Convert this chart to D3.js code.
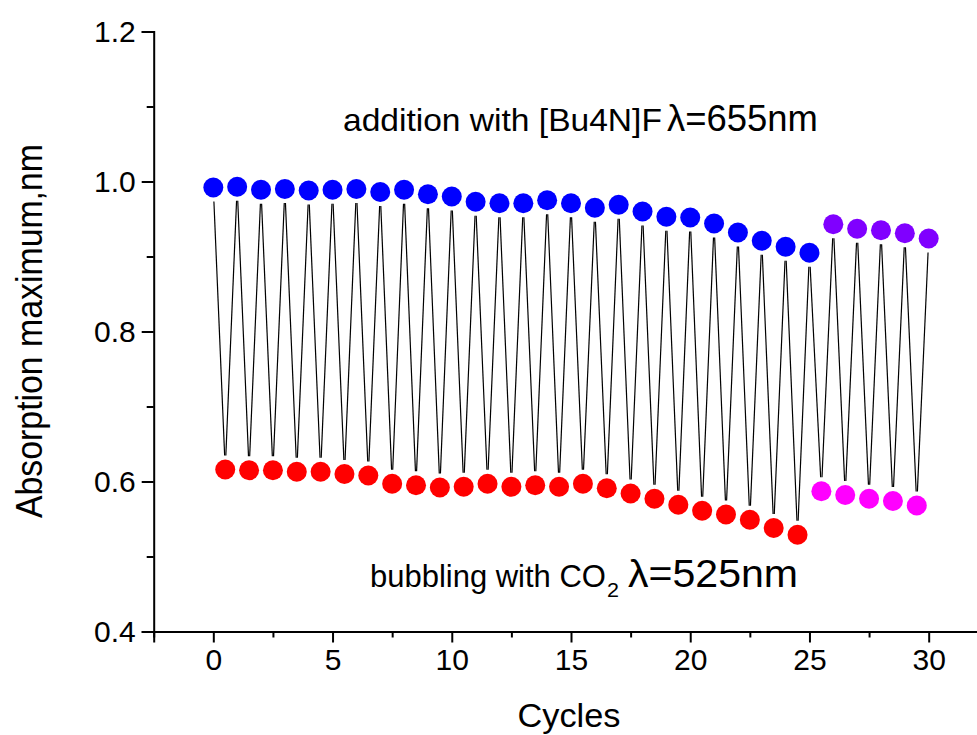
<!DOCTYPE html>
<html>
<head>
<meta charset="utf-8">
<script src="https://cdn.jsdelivr.net/npm/d3@7"></script>
<style>
  html, body { margin: 0; padding: 0; background: #fff; }
  svg { display: block; }
  text { font-family: "Liberation Sans", Arial, Helvetica, sans-serif; fill: #000; }
</style>
</head>
<body>
<svg id="chart" width="977" height="735"></svg>
<script>
// Absorption maximum over switching cycles (fluoride addition / CO2 bubbling)
const blueCycles   = d3.range(0, 26);          // 0 .. 25
const blueValues   = [0.992, 0.993, 0.989, 0.990, 0.988, 0.989, 0.990, 0.986, 0.989, 0.983,
                      0.980, 0.973, 0.971, 0.971, 0.975, 0.971, 0.965, 0.969, 0.960, 0.953,
                      0.952, 0.944, 0.932, 0.921, 0.913, 0.905];
const redCycles    = d3.range(0, 25).map(i => i + 0.5);   // 0.5 .. 24.5
const redValues    = [0.616, 0.615, 0.615, 0.613, 0.613, 0.610, 0.608, 0.597, 0.595, 0.592,
                      0.593, 0.597, 0.593, 0.595, 0.593, 0.597, 0.591, 0.584, 0.577, 0.569,
                      0.561, 0.556, 0.549, 0.538, 0.529];
const violetCycles = [26, 27, 28, 29, 30];
const violetValues = [0.943, 0.937, 0.935, 0.931, 0.924];
const pinkCycles   = [25.5, 26.5, 27.5, 28.5, 29.5];
const pinkValues   = [0.587, 0.582, 0.577, 0.574, 0.568];

const xMajorTicks = [0, 5, 10, 15, 20, 25, 30];
const xMinorTicks = [-2.5, 2.5, 7.5, 12.5, 17.5, 22.5, 27.5, 32.5];
const yMajorTicks = [0.4, 0.6, 0.8, 1.0, 1.2];
const yMinorTicks = [0.5, 0.7, 0.9, 1.1];

const svg = d3.select("#chart");

const x = d3.scaleLinear().domain([-2.5, 32.5]).range([153.7, 988.3]);
const y = d3.scaleLinear().domain([0.4, 1.2]).range([631.5, 31.5]);

// ---- axes ----
const xAxisG = svg.append("g").attr("transform", `translate(0,${y(0.4)})`);
xAxisG.call(d3.axisBottom(x).tickValues(xMajorTicks).tickSize(11).tickPadding(6).tickFormat(d3.format("d")));
const xMinorG = svg.append("g").attr("transform", `translate(0,${y(0.4)})`);
xMinorG.call(d3.axisBottom(x).tickValues(xMinorTicks).tickSize(6).tickFormat(""));

const yAxisG = svg.append("g").attr("transform", `translate(${x(-2.5)},0)`);
yAxisG.call(d3.axisLeft(y).tickValues(yMajorTicks).tickSize(12).tickPadding(6).tickFormat(d3.format(".1f")));
const yMinorG = svg.append("g").attr("transform", `translate(${x(-2.5)},0)`);
yMinorG.call(d3.axisLeft(y).tickValues(yMinorTicks).tickSize(7).tickFormat(""));

[xAxisG, xMinorG, yAxisG, yMinorG].forEach(g => {
  g.selectAll("path.domain").attr("stroke", "#000").attr("stroke-width", 2);
  g.selectAll(".tick line").attr("stroke", "#000").attr("stroke-width", 2);
});
xMinorG.select("path.domain").remove();
yMinorG.select("path.domain").remove();
xAxisG.selectAll(".tick text").attr("font-size", 30).attr("font-family", "Liberation Sans, Arial, sans-serif");
yAxisG.selectAll(".tick text").attr("font-size", 30).attr("font-family", "Liberation Sans, Arial, sans-serif");

// ---- zigzag connecting line (all points in cycle order), with gaps at symbols ----
const seq = [];
blueCycles.forEach((c, i) => seq.push({ c, v: blueValues[i] }));
redCycles.forEach((c, i) => seq.push({ c, v: redValues[i] }));
violetCycles.forEach((c, i) => seq.push({ c, v: violetValues[i] }));
pinkCycles.forEach((c, i) => seq.push({ c, v: pinkValues[i] }));
seq.sort((a, b) => a.c - b.c);

const gap = 14;
const segs = [];
for (let i = 0; i < seq.length - 1; i++) {
  const x0 = x(seq[i].c), y0 = y(seq[i].v);
  const x1 = x(seq[i + 1].c), y1 = y(seq[i + 1].v);
  const len = Math.hypot(x1 - x0, y1 - y0);
  const ux = (x1 - x0) / len, uy = (y1 - y0) / len;
  segs.push({ x0: x0 + ux * gap, y0: y0 + uy * gap, x1: x1 - ux * gap, y1: y1 - uy * gap });
}
svg.append("g").selectAll("line").data(segs).join("line")
  .attr("x1", d => d.x0).attr("y1", d => d.y0)
  .attr("x2", d => d.x1).attr("y2", d => d.y1)
  .attr("stroke", "#000").attr("stroke-width", 1.2);

// ---- symbols ----
const r = 10;
function dots(cs, vs, color) {
  svg.append("g").selectAll("circle").data(cs.map((c, i) => ({ c, v: vs[i] }))).join("circle")
    .attr("cx", d => x(d.c)).attr("cy", d => y(d.v)).attr("r", r).attr("fill", color);
}
dots(blueCycles, blueValues, "#0000ff");
dots(redCycles, redValues, "#ff0000");
dots(violetCycles, violetValues, "#8000ff");
dots(pinkCycles, pinkValues, "#ff00ff");

// text fitted horizontally to a given width
function fitted(x0, yb, txt, size, width, anchor) {
  const t = svg.append("text").attr("font-size", size).text(txt);
  const natural = t.node().getComputedTextLength();
  const s = width / natural;
  const left = anchor === "middle" ? x0 - width / 2 : x0;
  t.attr("transform", `translate(${left},${yb}) scale(${s},1)`);
  return t;
}

// ---- axis titles ----
fitted(569, 727, "Cycles", 33, 103, "middle");
svg.append("text").attr("transform", "translate(42,331) rotate(-90)")
  .attr("text-anchor", "middle").attr("font-size", 36)
  .attr("textLength", 374).attr("lengthAdjust", "spacingAndGlyphs")
  .text("Absorption maximum,nm");

// ---- annotations ----
fitted(343, 131, "addition with [Bu4N]F", 32, 319);
fitted(667, 131, "λ=655nm", 36, 151);

fitted(370, 587, "bubbling with CO", 31, 236);
fitted(607, 597, "2", 21, 12);
fitted(628, 587, "λ=525nm", 38, 170);
</script>
</body>
</html>
